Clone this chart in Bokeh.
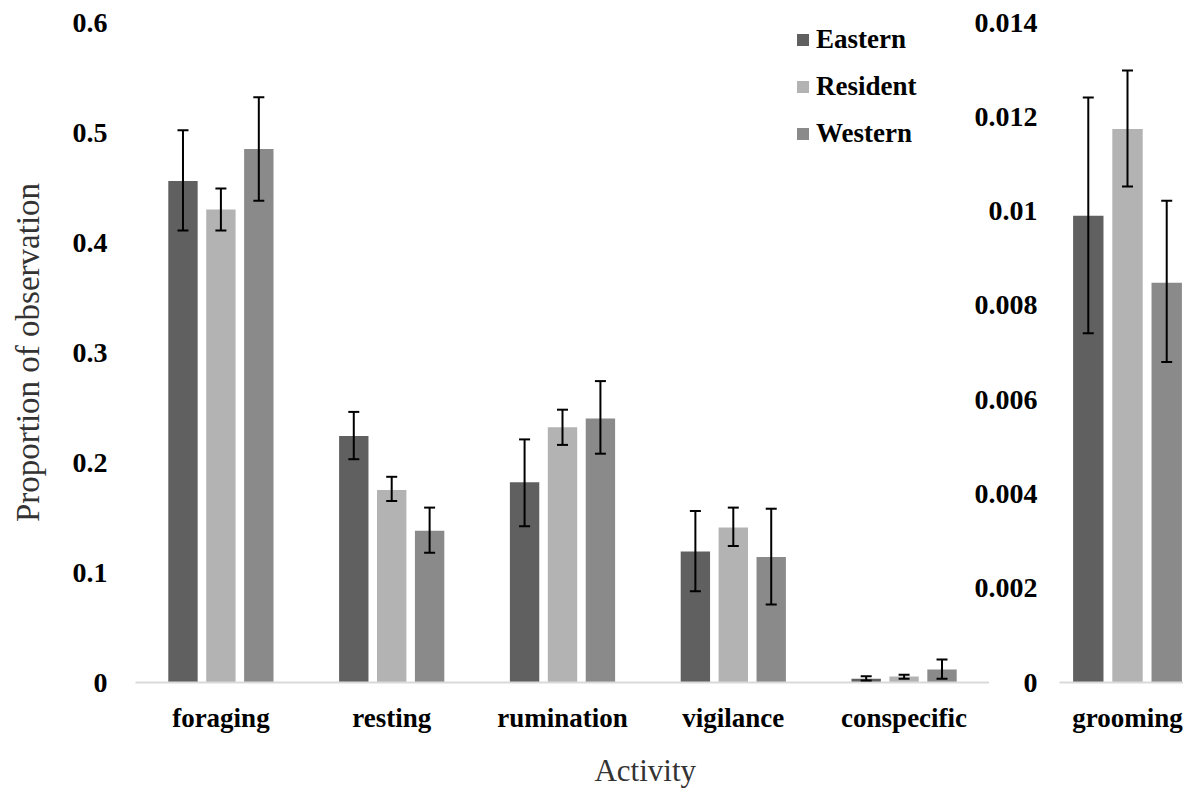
from bokeh.plotting import figure
from bokeh.models import (ColumnDataSource, FactorRange, Range1d, FixedTicker, Whisker,
                          TeeHead, Legend, LegendItem, Label)
from bokeh.transform import dodge
from bokeh.layouts import row, column
from bokeh.embed import file_html
from bokeh.resources import INLINE

# ---------------- data ----------------
activities = ["foraging", "resting", "rumination", "vigilance", "conspecific"]
series_names = ["Eastern", "Resident", "Western"]

eastern = [0.456, 0.224, 0.182, 0.119, 0.0034]
eastern_lo = [0.411, 0.203, 0.142, 0.083, 0.0018]
eastern_hi = [0.502, 0.246, 0.221, 0.156, 0.0057]

resident = [0.430, 0.175, 0.232, 0.141, 0.0054]
resident_lo = [0.411, 0.165, 0.216, 0.124, 0.0034]
resident_hi = [0.449, 0.187, 0.248, 0.159, 0.0070]

western = [0.485, 0.138, 0.240, 0.114, 0.0118]
western_lo = [0.438, 0.118, 0.208, 0.071, 0.0034]
western_hi = [0.532, 0.159, 0.274, 0.158, 0.0210]

groom_activity = ["grooming"]
groom_pos = [0.0]
groom_eastern = [0.00990]
groom_eastern_lo = [0.00741]
groom_eastern_hi = [0.01241]
groom_resident = [0.01174]
groom_resident_lo = [0.01052]
groom_resident_hi = [0.01298]
groom_western = [0.00848]
groom_western_lo = [0.00680]
groom_western_hi = [0.01022]

left_ticks = [0, 0.1, 0.2, 0.3, 0.4, 0.5, 0.6]
left_tick_labels = ["0", "0.1", "0.2", "0.3", "0.4", "0.5", "0.6"]
right_ticks = [0, 0.002, 0.004, 0.006, 0.008, 0.01, 0.012, 0.014]
right_tick_labels = ["0", "0.002", "0.004", "0.006", "0.008", "0.01", "0.012", "0.014"]

x_title = "Activity"
y_title = "Proportion of observation"

# ---------------- styles ----------------
colors = ["#606060", "#b3b3b3", "#8a8a8a"]
offsets = [-0.222, 0.0, 0.222]
bar_w = 0.172
FONT = "Liberation Serif"
LBL = "27px"
TICK = "28px"
BASE = "#d9d9d9"
TITLE_COLOR = "#333333"

src = ColumnDataSource(dict(
    activity=activities,
    Eastern=eastern, Eastern_lo=eastern_lo, Eastern_hi=eastern_hi,
    Resident=resident, Resident_lo=resident_lo, Resident_hi=resident_hi,
    Western=western, Western_lo=western_lo, Western_hi=western_hi,
))
gsrc = ColumnDataSource(dict(
    pos=groom_pos, activity=groom_activity,
    Eastern=groom_eastern, Eastern_lo=groom_eastern_lo, Eastern_hi=groom_eastern_hi,
    Resident=groom_resident, Resident_lo=groom_resident_lo, Resident_hi=groom_resident_hi,
    Western=groom_western, Western_lo=groom_western_lo, Western_hi=groom_western_hi,
))


def style_common(fig):
    fig.xgrid.grid_line_color = None
    fig.ygrid.grid_line_color = None
    fig.outline_line_color = None
    for ax in fig.xaxis:
        ax.axis_line_color = BASE
        ax.axis_line_width = 2
        ax.major_tick_line_color = None
        ax.minor_tick_line_color = None
        ax.major_label_text_font = FONT
        ax.major_label_text_font_style = "bold"
        ax.major_label_text_font_size = LBL
        ax.major_label_text_color = "black"
        ax.major_label_standoff = 14
    for ax in fig.yaxis:
        ax.axis_line_color = None
        ax.major_tick_line_color = None
        ax.minor_tick_line_color = None
        ax.major_label_text_font = FONT
        ax.major_label_text_font_style = "bold"
        ax.major_label_text_font_size = TICK
        ax.major_label_text_color = "black"


# ---------------- left chart ----------------
p = figure(x_range=FactorRange(*activities), y_range=Range1d(0, 0.6),
           width=989, height=738,
           min_border_left=135, min_border_right=0,
           min_border_top=22, min_border_bottom=56,
           output_backend="svg", toolbar_location=None)

renderers = []
for name, off, col in zip(series_names, offsets, colors):
    r = p.vbar(x=dodge("activity", off, range=p.x_range), top=name, width=bar_w,
               source=src, fill_color=col, line_color=None)
    renderers.append(r)
    p.add_layout(Whisker(base=dodge("activity", off, range=p.x_range),
                         upper=name + "_hi", lower=name + "_lo", source=src,
                         line_color="black", line_width=2, level="annotation",
                         upper_head=TeeHead(size=11, line_color="black", line_width=2),
                         lower_head=TeeHead(size=11, line_color="black", line_width=2)))

style_common(p)
p.yaxis.ticker = FixedTicker(ticks=left_ticks)
p.yaxis.major_label_overrides = dict(zip(left_ticks, left_tick_labels))
p.yaxis.major_label_standoff = 22
p.yaxis.axis_label = y_title
p.yaxis.axis_label_text_font = FONT
p.yaxis.axis_label_text_font_style = "normal"
p.yaxis.axis_label_text_font_size = "33px"
p.yaxis.axis_label_text_color = TITLE_COLOR
p.yaxis.axis_label_standoff = 24

legend = Legend(items=[LegendItem(label=n, renderers=[r]) for n, r in zip(series_names, renderers)],
                location=(660, 533), padding=0, spacing=16, margin=0,
                glyph_width=15, glyph_height=15, label_standoff=6,
                label_text_font=FONT, label_text_font_style="bold",
                label_text_font_size=LBL, label_text_color="black",
                background_fill_alpha=0, border_line_color=None)
p.add_layout(legend)

# ---------------- right chart (grooming) ----------------
q = figure(x_range=Range1d(-0.385, 0.317), y_range=Range1d(0, 0.014),
           width=212, height=738,
           min_border_left=87, min_border_right=0,
           min_border_top=22, min_border_bottom=56, margin=(0, 0, 0, -18),
           output_backend="svg", toolbar_location=None)
q.border_fill_alpha = 0
q.background_fill_alpha = 0

for name, off, col in zip(series_names, offsets, colors):
    q.vbar(x=dodge("pos", off), top=name, width=bar_w, source=gsrc,
           fill_color=col, line_color=None)
    q.add_layout(Whisker(base=dodge("pos", off), upper=name + "_hi", lower=name + "_lo",
                         source=gsrc, line_color="black", line_width=2, level="annotation",
                         upper_head=TeeHead(size=11, line_color="black", line_width=2),
                         lower_head=TeeHead(size=11, line_color="black", line_width=2)))

style_common(q)
q.xaxis.ticker = FixedTicker(ticks=groom_pos)
q.xaxis.major_label_overrides = dict(zip(groom_pos, groom_activity))
q.yaxis.ticker = FixedTicker(ticks=right_ticks)
q.yaxis.major_label_overrides = dict(zip(right_ticks, right_tick_labels))
q.yaxis.major_label_standoff = 16

# ---------------- x-axis title strip ----------------
t = figure(width=1183, height=56, x_range=Range1d(0, 1), y_range=Range1d(0, 1),
           x_axis_type=None, y_axis_type=None, min_border=0,
           output_backend="svg", toolbar_location=None)
t.grid.grid_line_color = None
t.outline_line_color = None
t.add_layout(Label(x=0.545, y=0.42, text=x_title, text_align="center",
                   text_baseline="middle", text_font=FONT, text_font_style="normal",
                   text_font_size="31px", text_color=TITLE_COLOR))

layout = column(row(p, q), t)
open("out.html", "w").write(file_html(layout, INLINE))
